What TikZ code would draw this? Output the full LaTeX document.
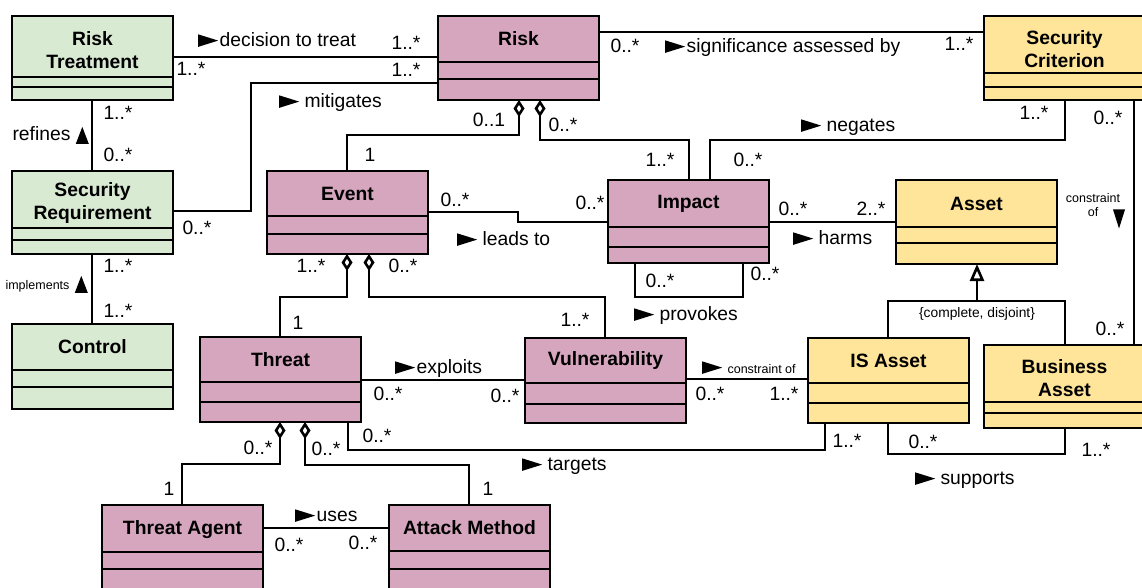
\documentclass[tikz,border=0pt]{standalone}
\usepackage{fontspec}
\setmainfont{Liberation Sans}
\usetikzlibrary{arrows.meta}

\definecolor{greenfill}{HTML}{D9EAD3}
\definecolor{pinkfill}{HTML}{D5A6BD}
\definecolor{yellowfill}{HTML}{FFE599}

\newcommand\cfTitle{\fontsize{19.3pt}{23pt}\bfseries\selectfont}
\newcommand\cfLabel{\fontsize{19.3pt}{23pt}\selectfont}
\newcommand\cfSmall{\fontsize{12.5pt}{14.5pt}\selectfont}
\newcommand\cfNote{\fontsize{13.8pt}{16pt}\selectfont}

% reading-direction pointers set inline with association names
\newcommand\dirright{\tikz[baseline=0pt]\fill[black] (0pt,0pt) -- (0pt,12.5pt) -- (20pt,6.25pt) -- cycle;}
\newcommand\dirup{\tikz[baseline=0pt]\fill[black] (0pt,-3pt) -- (13pt,-3pt) -- (6.5pt,14pt) -- cycle;}
\newcommand\dirdown{\tikz[baseline=0pt]\fill[black] (0pt,16pt) -- (12pt,16pt) -- (6pt,-3pt) -- cycle;}

\tikzset{
  classbox/.style={draw=black, line width=2.6pt, rectangle, anchor=north west,
    minimum width=161pt, inner sep=0pt, outer sep=0pt},
  divider/.style={line width=2.6pt},
  classtitle/.style={font=\cfTitle, align=center, inner sep=0pt},
  lbl/.style={font=\cfLabel, inner sep=0pt, text height=13.7pt, text depth=0pt},
  mult/.style={lbl},
  assoc/.style={line width=2.6pt},
  agg/.style={assoc, {Diamond[open, length=17pt, width=11pt]}-},
  gen/.style={assoc, -{Triangle[open, length=17pt, width=14pt]}},
}

% #1 name, #2 x, #3 y, #4 fill, #5/#6/#7 compartment heights, #8 title, #9 title shift
\newcommand\umlclass[9]{%
  \node[classbox, fill=#4, minimum height={(#5+#6+#7)*1pt}] (#1) at (#2,#3) {};
  \draw[divider] ([yshift={-#5*1pt}]#1.north west) -- ([yshift={-#5*1pt}]#1.north east);
  \draw[divider] ([yshift={-(#5+#6)*1pt}]#1.north west) -- ([yshift={-(#5+#6)*1pt}]#1.north east);
  \node[classtitle] (#1-title) at ([yshift={-(#5/2+#9)*1pt}]#1.north) {#8};
}

\begin{document}
\begin{tikzpicture}[x=1pt,y=-1pt]
\fill[white] (0,0) rectangle (1142,588);
\useasboundingbox (0,0) rectangle (1142,588);
\clip (0,0) rectangle (1142,588);

% ---- classes ----
\umlclass{risktreat}{12}{16}{greenfill}{61}{10}{13}{Risk\\Treatment}{4}
\umlclass{secreq}{12}{171}{greenfill}{57}{12}{14}{Security\\Requirement}{4}
\umlclass{control}{12}{324}{greenfill}{46}{17}{22}{Control}{0}
\umlclass{risk}{438}{16}{pinkfill}{46}{17}{21}{Risk}{0}
\umlclass{seccrit}{984}{16}{yellowfill}{57}{14}{13}{Security\\Criterion}{4.5}
\umlclass{event}{267}{171}{pinkfill}{45}{18}{20}{Event}{0}
\umlclass{impact}{608}{180}{pinkfill}{47}{20}{16}{Impact}{0}
\umlclass{asset}{896}{180}{yellowfill}{47}{16}{21}{Asset}{0}
\umlclass{threat}{200}{337}{pinkfill}{45}{20}{20}{Threat}{0}
\umlclass{vuln}{525}{338}{pinkfill}{45}{21}{19}{Vulnerability}{0}
\umlclass{isasset}{808}{338}{yellowfill}{45}{20}{20}{IS Asset}{0}
\umlclass{busasset}{984}{345}{yellowfill}{57}{11}{15}{Business\\Asset}{5}
\umlclass{agent}{102}{505}{pinkfill}{47}{17}{21}{Threat Agent}{1}
\umlclass{attack}{389}{505}{pinkfill}{46}{18}{21}{Attack Method}{0}

% ---- associations ----
\draw[assoc] (risktreat.east |- 0,57) -- (risk.west |- 0,57);
\draw[assoc] (risk.west |- 0,83) -| (251,211) -- (secreq.east |- 0,211);
\draw[assoc] (risktreat.south -| 92,0) -- (secreq.north -| 92,0);
\draw[assoc] (secreq.south -| 92,0) -- (control.north -| 92,0);
\draw[assoc] (risk.east |- 0,32) -- (seccrit.west |- 0,32);
\draw[agg] (risk.south -| 519,0) |- (347,135) -- (event.north -| 347,0);
\draw[agg] (risk.south -| 540,0) |- (689,140) -- (impact.north -| 689,0);
\draw[assoc] (impact.north -| 710,0) |- (1065,140) -- (seccrit.south -| 1065,0);
\draw[assoc] (event.east |- 0,212) -| (518,222) -- (impact.west |- 0,222);
\draw[assoc] (impact.east |- 0,222) -- (asset.west |- 0,222);
\draw[assoc] (impact.south -| 635,0) |- (743,297) -- (impact.south -| 743,0);
\draw[agg] (event.south -| 347,0) |- (280,297) -- (threat.north -| 280,0);
\draw[agg] (event.south -| 369,0) |- (605,297) -- (vuln.north -| 605,0);
\draw[assoc] (threat.east |- 0,380) -- (vuln.west |- 0,380);
\draw[assoc] (vuln.east |- 0,379) -- (isasset.west |- 0,379);
\draw[assoc] (threat.south -| 348,0) |- (825,450) -- (isasset.south -| 825,0);
\draw[assoc] (isasset.south -| 888,0) |- (1065,454) -- (busasset.south -| 1065,0);
\coordinate (genjoin) at (977,301);
\draw[assoc] (isasset.north -| 888,0) |- (genjoin) -| (busasset.north -| 1065,0);
\draw[gen] (genjoin) -- (asset.south -| genjoin);
\draw[assoc] (seccrit.south -| 1134,0) -- (busasset.north -| 1134,0);
\draw[agg] (threat.south -| 280,0) |- (182,464) -- (agent.north -| 182,0);
\draw[agg] (threat.south -| 305,0) |- (469,465) -- (attack.north -| 469,0);
\draw[assoc] (agent.east |- 0,528) -- (attack.west |- 0,528);

% ---- association names ----
\node[lbl, anchor=west] (t1) at (198,40) {\dirright\hspace{1.5pt}decision to treat};
\node[lbl, anchor=west] (t2) at (279,101) {\dirright\ mitigates};
\node[lbl, anchor=east] (t3) at (89,134) {refines \dirup};
\node[lbl, anchor=east] (t4) at (88,283) {{\cfSmall implements} \dirup};
\node[lbl, anchor=west] (t5) at (665,46) {\dirright\hspace{1.5pt}significance assessed by};
\node[lbl, anchor=west] (t8) at (801,125) {\dirright\ negates};
\node[lbl, anchor=west] (t9) at (457,239) {\dirright\ leads to};
\node[lbl, anchor=west] (t10) at (793,238) {\dirright\ harms};
\node[lbl, anchor=west] (t11) at (634,314) {\dirright\ provokes};
\node[lbl, anchor=west] (t14) at (395,367) {\dirright\hspace{1.5pt}exploits};
\node[lbl, anchor=west] (t15) at (702,367) {\dirright\ {\cfSmall constraint of}};
\node[lbl, anchor=west] (t16) at (522,464) {\dirright\ targets};
\node[lbl, anchor=west] (t17) at (915,478) {\dirright\ supports};
\node[lbl, anchor=west] (t22) at (295,515) {\dirright\hspace{1.5pt}uses};
\node[font=\cfNote, inner sep=0pt] (t18) at (977,314) {\{complete, disjoint\}};
\node[font=\cfSmall, align=center, inner sep=0pt] (t19) at (1093,205) {constraint\\of};
\node[inner sep=0pt] (t19b) at (1119,219) {\dirdown};

% ---- multiplicities ----
\node[mult] (m1a) at (191,69) {1..*};
\node[mult] (m1b) at (406,43) {1..*};
\node[mult] (m2a) at (406,70) {1..*};
\node[mult] (m2b) at (197,228) {0..*};
\node[mult] (m3a) at (118,113) {1..*};
\node[mult] (m3b) at (118,155) {0..*};
\node[mult] (m4a) at (118,266) {1..*};
\node[mult] (m4b) at (118,311) {1..*};
\node[mult] (m5a) at (625,46) {0..*};
\node[mult] (m5b) at (959,44) {1..*};
\node[mult] (m6a) at (489,120) {0..1};
\node[mult] (m6b) at (370,155) {1};
\node[mult] (m7a) at (563,125) {0..*};
\node[mult] (m7b) at (660,160) {1..*};
\node[mult] (m8a) at (748,160) {0..*};
\node[mult] (m8b) at (1034,113) {1..*};
\node[mult] (m9a) at (455,200) {0..*};
\node[mult] (m9b) at (590,203) {0..*};
\node[mult] (m10a) at (793,209) {0..*};
\node[mult] (m10b) at (871,209) {2..*};
\node[mult] (m11a) at (660,281) {0..*};
\node[mult] (m11b) at (765,274) {0..*};
\node[mult] (m12a) at (311,266) {1..*};
\node[mult] (m12b) at (298,323) {1};
\node[mult] (m13a) at (403,266) {0..*};
\node[mult] (m13b) at (575,320) {1..*};
\node[mult] (m14a) at (388,394) {0..*};
\node[mult] (m14b) at (505,396) {0..*};
\node[mult] (m15a) at (710,394) {0..*};
\node[mult] (m15b) at (784,394) {1..*};
\node[mult] (m16a) at (377,436) {0..*};
\node[mult] (m16b) at (847,441) {1..*};
\node[mult] (m17a) at (923,442) {0..*};
\node[mult] (m17b) at (1096,450) {1..*};
\node[mult] (m19a) at (1108,118) {0..*};
\node[mult] (m19b) at (1110,329) {0..*};
\node[mult] (m20a) at (258,448) {0..*};
\node[mult] (m20b) at (169,489) {1};
\node[mult] (m21a) at (326,449) {0..*};
\node[mult] (m21b) at (488,489) {1};
\node[mult] (m22a) at (289,545) {0..*};
\node[mult] (m22b) at (363,543) {0..*};
\end{tikzpicture}
\end{document}
